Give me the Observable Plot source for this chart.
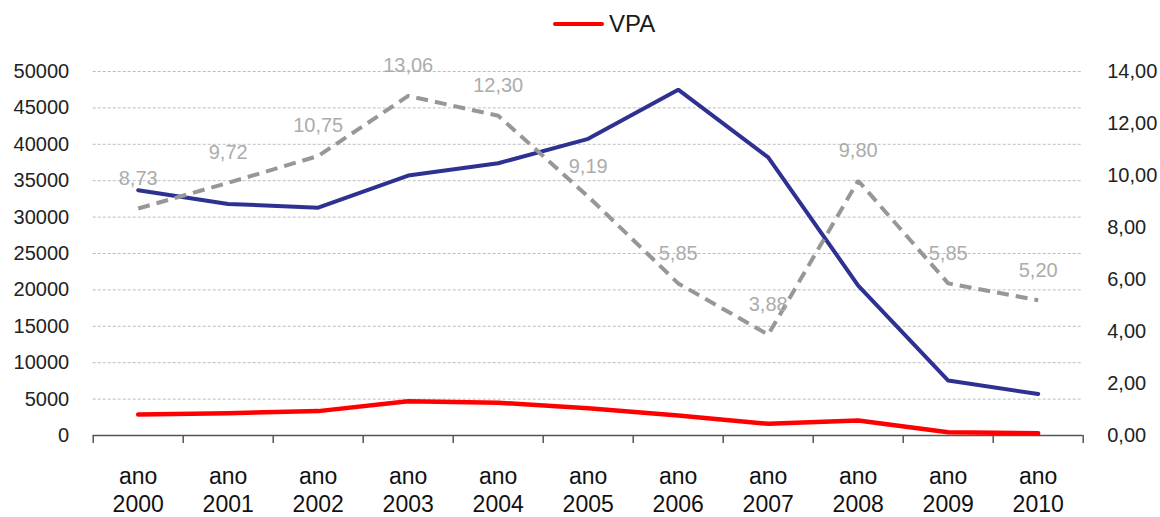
<!DOCTYPE html>
<html>
<head>
<meta charset="utf-8">
<script src="https://cdn.jsdelivr.net/npm/d3@7"></script>
<script src="https://cdn.jsdelivr.net/npm/@observablehq/plot@0.6"></script>
<style>
  html, body { margin: 0; padding: 0; background: #fff; }
  #wrap { width: 1160px; height: 517px; position: relative; font-family: "Liberation Sans", Arial, sans-serif; }
  #legend { height: 50px; position: relative; }
  #legend .sw { position: absolute; left: 553px; top: 22px; width: 51px; height: 4px; background: #ff0000; border-radius: 2px; }
  #legend .lb { position: absolute; left: 609px; top: 10px; font-size: 24px; color: #1a1a1a; line-height: 28px; }
</style>
</head>
<body>
<div id="wrap">
  <div id="legend"><div class="sw"></div><div class="lb">VPA</div></div>
  <div id="chart"></div>
</div>
<script>
// Categories
const years = ["2000","2001","2002","2003","2004","2005","2006","2007","2008","2009","2010"];
// Left-axis series (blue line, unlabeled)
const blueValues = [33700, 31800, 31300, 35700, 37400, 40750, 47500, 38200, 20600, 7550, 5700];
// Left-axis series VPA (red line)
const vpaValues = [2900, 3070, 3350, 4700, 4500, 3750, 2750, 1600, 2060, 460, 300];
// Right-axis series (gray dashed line, labeled)
const grayValues = [8.73, 9.72, 10.75, 13.06, 12.30, 9.19, 5.85, 3.88, 9.80, 5.85, 5.20];
// Tick values
const leftTicks = [0, 5000, 10000, 15000, 20000, 25000, 30000, 35000, 40000, 45000, 50000];
const gridTicks = [5000, 10000, 15000, 20000, 25000, 30000, 35000, 40000, 45000, 50000];
const rightTicks = [0, 2, 4, 6, 8, 10, 12, 14];

const leftMax = 50000, rightMax = 14;
const k = leftMax / rightMax; // right axis -> left axis units

const idx = years.map((_, i) => i);
const bounds = [...idx.map(i => i - 0.5), years.length - 0.5];

const rows = years.map((y, i) => ({i, year: y, blue: blueValues[i], vpa: vpaValues[i], gray: grayValues[i]}));
const fmt2 = v => v.toFixed(2).replace(".", ",");

const chart = Plot.plot({
  width: 1160,
  height: 467,
  marginLeft: 92.7,
  marginRight: 77.3,
  marginTop: 21,
  marginBottom: 82,
  style: {fontFamily: "'Liberation Sans', Arial, sans-serif", fontSize: "20px", color: "#1a1a1a", background: "#fff"},
  x: {type: "linear", domain: [-0.5, years.length - 0.5]},
  y: {type: "linear", domain: [0, leftMax]},
  marks: [
    Plot.ruleY(gridTicks, {stroke: "#bdbdbd", strokeWidth: 1, strokeDasharray: "3,2"}),
    Plot.ruleY([0], {stroke: "#555", strokeWidth: 1.5}),
    Plot.axisX(bounds, {tickSize: 8, tickFormat: () => "", stroke: "#555", strokeWidth: 1.5, label: null}),
    Plot.axisX(idx, {tickSize: 0, tickPadding: 29, fontSize: 23, lineHeight: 1.2, fill: "#111",
      tickFormat: i => "ano\n" + years[i], label: null}),
    Plot.axisY(leftTicks, {anchor: "left", tickSize: 0, tickPadding: 24, fontSize: 20, fill: "#222",
      tickFormat: d => String(d), label: null}),
    Plot.axisY(rightTicks.map(v => v * k), {anchor: "right", tickSize: 0, tickPadding: 24, fontSize: 20, fill: "#222",
      tickFormat: v => fmt2(v / k), label: null}),
    Plot.line(rows, {x: "i", y: "blue", stroke: "#2e3192", strokeWidth: 4, strokeLinejoin: "miter", strokeLinecap: "round"}),
    Plot.line(rows, {x: "i", y: "vpa", stroke: "#ff0000", strokeWidth: 4.5, strokeLinecap: "round"}),
    Plot.line(rows, {x: "i", y: d => d.gray * k, stroke: "#979797", strokeWidth: 4, strokeDasharray: "12,7", strokeLinecap: "butt", strokeLinejoin: "miter"}),
    Plot.text(rows, {x: "i", y: d => d.gray * k, text: d => fmt2(d.gray), dy: -30, fontSize: 20, fill: "#acacac"})
  ]
});
document.getElementById("chart").appendChild(chart);
</script>
</body>
</html>
